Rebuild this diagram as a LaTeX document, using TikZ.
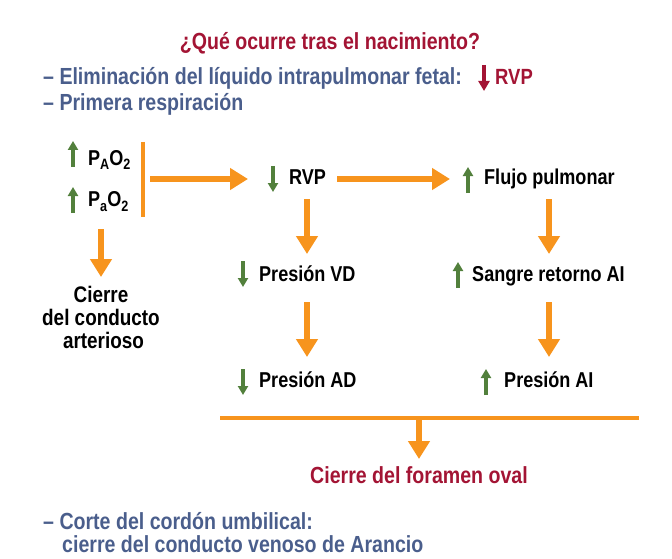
\documentclass[tikz,border=0pt]{standalone}
\usepackage{fontspec}
\setmainfont[FakeStretch=0.84]{Liberation Sans}
\usetikzlibrary{positioning, arrows.meta, calc}
\definecolor{titlered}{RGB}{163,20,52}
\definecolor{textblue}{RGB}{74,94,140}
\definecolor{flowand}{RGB}{247,148,29}
\definecolor{trendgreen}{RGB}{82,128,60}

\begin{document}
\begin{tikzpicture}[
    x=1pt, y=-1pt,
    txt/.style={
        inner sep=0pt, anchor=base west,
        font=\fontsize{21.5}{25}\selectfont\bfseries, text=black
    },
    bluetxt/.style={txt, text=textblue, font=\fontsize{23.3}{26}\selectfont\bfseries},
    redtxt/.style={txt, text=titlered, font=\fontsize{23.3}{26}\selectfont\bfseries},
    flow/.style={
        -{Triangle[length=18pt, width=21pt]},
        line width=5.5pt, color=flowand
    },
    trend/.style={
        -{Triangle[length=9pt, width=10pt]},
        line width=3.6pt, color=trendgreen
    },
    up/.pic={\draw[trend] (0,7) -- (0,-19);},
    down/.pic={\draw[trend] (0,-19) -- (0,7);}
]
\useasboundingbox (0,0) rectangle (672,559);

% --- header ---
\node[redtxt, anchor=base] (title) at (330,50) {¿Qué ocurre tras el nacimiento?};
\node[bluetxt] (liquido) at (43,85) {– Eliminación del líquido intrapulmonar fetal:};
\node[redtxt, font=\fontsize{22}{26}\selectfont\bfseries] (rvptop) at (495,85) {RVP};
\draw[-{Triangle[length=10pt, width=11pt]}, line width=4.5pt, titlered]
    ([shift={(-11,-20)}]rvptop.base west) -- ([shift={(-11,6)}]rvptop.base west);
\node[bluetxt] (resp) at (43,111) {– Primera respiración};

% --- oxygen ---
\node[txt] (pao) at (88,165) {P\raisebox{-5pt}{\fontsize{15}{15}\selectfont A}O\raisebox{-5pt}{\fontsize{15}{15}\selectfont 2}};
\node[txt] (pao2) at (88,206) {P\raisebox{-5pt}{\fontsize{15}{15}\selectfont a}O\raisebox{-5pt}{\fontsize{15}{15}\selectfont 2}};
\pic at (73,160) {up};
\pic at (73,206) {up};
\draw[flowand, line width=4.5pt] (143,142) -- (143,217);
\coordinate (bar) at (150,179);

\node[txt, anchor=base, align=center, font=\fontsize{22.5}{23}\selectfont\bfseries] (ductus) at (101,348)
    {Cierre\\[0pt]del conducto\\[0pt]\hspace*{5pt}arterioso};
\coordinate (ductustop) at (101,277);

% --- right side ---
\node[txt] (rvp) at (289,185) {RVP};
\node[txt] (flujo) at (484,185) {Flujo pulmonar};
\node[txt] (pvd) at (259,281) {Presión VD};
\node[txt] (sangre) at (472,281) {Sangre retorno AI};
\node[txt] (pad) at (259,387) {Presión AD};
\node[txt] (pai) at (504,387) {Presión AI};
\node[redtxt, anchor=base] (foramen) at (419,483) {Cierre del foramen oval};

\pic at (273,185) {down};
\pic at (468,186) {up};
\pic at (243,280) {down};
\pic at (458,281) {up};
\pic at (243,388) {down};
\pic at (486,388) {up};

\coordinate (colA) at (307,0);
\coordinate (colB) at (549,0);
\coordinate (joinL) at (220,418);
\coordinate (joinR) at (639,418);

% --- flow arrows ---
\draw[flow] (bar) -- ([xshift=-41pt]rvp.west |- bar);
\draw[flow] ([xshift=11pt]rvp.east |- bar) -- ([xshift=-34pt]flujo.west |- bar);
\draw[flow] (colA |- 0,199) -- (colA |- 0,254);
\draw[flow] (colA |- 0,302) -- (colA |- 0,357);
\draw[flow] (colB |- 0,199) -- (colB |- 0,254);
\draw[flow] (colB |- 0,302) -- (colB |- 0,357);
\draw[flow] (101,229) -- (ductustop);
\draw[flowand, line width=4.5pt] (joinL) -- (joinR);
\draw[flow] (foramen.north |- joinL) -- (foramen.north |- 0,459);

% --- footer ---
\node[bluetxt] (cordon) at (43,529) {– Corte del cordón umbilical:};
\node[bluetxt] (venoso) at (62,552) {cierre del conducto venoso de Arancio};

\end{tikzpicture}
\end{document}
